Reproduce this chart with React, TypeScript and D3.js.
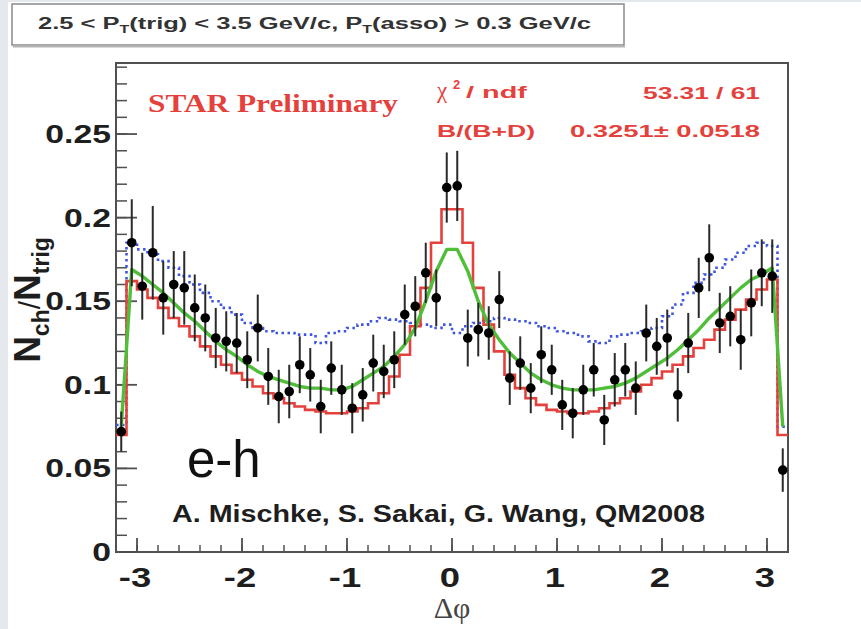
import React from 'react';
import * as d3 from 'd3';

const W = 861;
const H = 629;

// bin centers in delta-phi (bin width 0.1 over [-3.2, 3.2])
const phiBins = [
  -3.15, -3.05, -2.95, -2.85, -2.75, -2.65, -2.55, -2.45, -2.35, -2.25, -2.15, -2.05, -1.95, -1.85, -1.75, -1.65,
  -1.55, -1.45, -1.35, -1.25, -1.15, -1.05, -0.95, -0.85, -0.75, -0.65, -0.55, -0.45, -0.35, -0.25, -0.15, -0.05,
  0.05, 0.15, 0.25, 0.35, 0.45, 0.55, 0.65, 0.75, 0.85, 0.95, 1.05, 1.15, 1.25, 1.35, 1.45, 1.55,
  1.65, 1.75, 1.85, 1.95, 2.05, 2.15, 2.25, 2.35, 2.45, 2.55, 2.65, 2.75, 2.85, 2.95, 3.05, 3.15,
];

// measured e-h correlation (black points)
const dataVals = [
  0.072, 0.185, 0.159, 0.179, 0.152, 0.160, 0.158, 0.146, 0.140, 0.128, 0.126, 0.125, 0.115, 0.134, 0.105, 0.093,
  0.096, 0.112, 0.106, 0.087, 0.110, 0.097, 0.086, 0.094, 0.113, 0.108, 0.115, 0.142, 0.147, 0.167, 0.152, 0.218,
  0.219, 0.128, 0.133, 0.131, 0.151, 0.104, 0.113, 0.098, 0.118, 0.109, 0.088, 0.083, 0.097, 0.109, 0.079, 0.103,
  0.109, 0.098, 0.131, 0.123, 0.128, 0.094, 0.125, 0.158, 0.176, 0.137, 0.141, 0.127, 0.149, 0.167, 0.165, 0.049,
];

const dataErrs = [
  0.012, 0.026, 0.020, 0.028, 0.022, 0.020, 0.022, 0.020, 0.020, 0.018, 0.018, 0.018, 0.017, 0.020, 0.017, 0.016,
  0.016, 0.017, 0.016, 0.016, 0.016, 0.015, 0.015, 0.016, 0.017, 0.016, 0.017, 0.018, 0.018, 0.018, 0.017, 0.021,
  0.021, 0.017, 0.016, 0.016, 0.017, 0.016, 0.016, 0.015, 0.017, 0.015, 0.015, 0.015, 0.015, 0.016, 0.015, 0.016,
  0.016, 0.016, 0.017, 0.017, 0.017, 0.016, 0.018, 0.018, 0.020, 0.018, 0.018, 0.018, 0.020, 0.020, 0.022, 0.013,
];

// red histogram
const redHist = [
  0.070, 0.162, 0.157, 0.152, 0.146, 0.140, 0.135, 0.129, 0.123, 0.117, 0.112, 0.107, 0.103, 0.099, 0.095, 0.092,
  0.089, 0.087, 0.085, 0.084, 0.083, 0.083, 0.084, 0.086, 0.089, 0.095, 0.105, 0.118, 0.135, 0.158, 0.185, 0.205,
  0.205, 0.185, 0.158, 0.136, 0.120, 0.106, 0.098, 0.092, 0.088, 0.085, 0.084, 0.083, 0.083, 0.084, 0.086, 0.089,
  0.092, 0.096, 0.100, 0.104, 0.108, 0.112, 0.117, 0.122, 0.127, 0.133, 0.139, 0.145, 0.151, 0.157, 0.163, 0.070,
];

// green combined fit
const greenFit = [
  0.075, 0.169, 0.165, 0.160, 0.155, 0.149, 0.143, 0.138, 0.132, 0.126, 0.121, 0.117, 0.112, 0.108, 0.105, 0.103,
  0.101, 0.099, 0.098, 0.098, 0.097, 0.097, 0.099, 0.103, 0.107, 0.111, 0.117, 0.124, 0.134, 0.150, 0.168, 0.181,
  0.181, 0.168, 0.150, 0.136, 0.127, 0.119, 0.113, 0.107, 0.103, 0.100, 0.098, 0.097, 0.097, 0.097, 0.098, 0.099,
  0.101, 0.104, 0.108, 0.112, 0.116, 0.121, 0.127, 0.133, 0.140, 0.146, 0.152, 0.158, 0.163, 0.166, 0.170, 0.075,
];

// blue dotted template
const blueHist = [
  0.076, 0.185, 0.181, 0.178, 0.174, 0.170, 0.165, 0.160, 0.155, 0.150, 0.146, 0.142, 0.137, 0.134, 0.132, 0.131,
  0.131, 0.130, 0.130, 0.125, 0.131, 0.132, 0.134, 0.136, 0.138, 0.140, 0.139, 0.138, 0.137, 0.136, 0.134, 0.136,
  0.131, 0.135, 0.137, 0.138, 0.140, 0.139, 0.138, 0.137, 0.135, 0.134, 0.132, 0.131, 0.129, 0.126, 0.125, 0.129,
  0.130, 0.131, 0.132, 0.134, 0.141, 0.148, 0.155, 0.161, 0.166, 0.170, 0.175, 0.179, 0.183, 0.185, 0.183, 0.075,
];

const BIN_W = 0.1;
const RED = '#e4413c';
const GREEN = '#4fbf3a';
const BLUE = '#3d55e0';
const TXT = '#1e1e1e';

export default function App() {
  const x = d3.scaleLinear().domain([-3.2, 3.2]).range([116, 788]);
  const y = d3.scaleLinear().domain([0, 0.2925]).range([552, 63]);

  const stepPath = (vals: number[]) => {
    const pts: [number, number][] = phiBins.map((p, i) => [x(p - BIN_W / 2), y(vals[i])]);
    pts.push([x(phiBins[phiBins.length - 1] + BIN_W / 2), y(vals[vals.length - 1])]);
    return d3.line().curve(d3.curveStepAfter)(pts) || '';
  };
  const linePath = (vals: number[]) =>
    d3.line<number>().x((_, i) => x(phiBins[i])).y((v) => y(v))(vals) || '';

  const yMajor = y.ticks(6);
  const yMinor = y.ticks(30);
  const xMajor = x.ticks(7);
  const xMinor = x.ticks(32);
  const fmt = d3.format('~g');
  const x0 = x.range()[0];
  const x1 = x.range()[1];
  const yb = y.range()[0];
  const yt = y.range()[1];

  const sans = "'Liberation Sans', Arial, Helvetica, sans-serif";
  const serif = "'Liberation Serif', 'Times New Roman', serif";

  return (
    <svg width={W} height={H} style={{ position: 'absolute', left: 0, top: 0, background: '#fff' }}>
      {/* background */}
      <rect x={0} y={0} width={W} height={H} fill="#ffffff" />
      <rect x={0} y={0} width={8} height={H} fill="#e5e8ec" />
      <rect x={0} y={0} width={W} height={2} fill="#e5e8ec" />

      {/* title box */}
      <rect x={12} y={4} width={612} height={41} fill="#ffffff" stroke="#8a8a8a" strokeWidth={1.5} />
      <line x1={13} y1={46.5} x2={625} y2={46.5} stroke="#b5b5b5" strokeWidth={2} />
      <text x={38} y={29} fontFamily={sans} fontWeight="bold" fontSize={16} fill="#333"
        textLength={553} lengthAdjust="spacingAndGlyphs">
        2.5 &lt; P<tspan fontSize={10} dy={4}>T</tspan><tspan dy={-4}>(trig) &lt; 3.5 GeV/c, P</tspan>
        <tspan fontSize={10} dy={4}>T</tspan><tspan dy={-4}>(asso) &gt; 0.3 GeV/c</tspan>
      </text>

      {/* frame */}
      <rect x={x0} y={yt} width={x1 - x0} height={yb - yt} fill="#ffffff" stroke="#505050" strokeWidth={2} />

      {/* y ticks */}
      {yMinor.map((t) => (
        <line key={'ym' + t} x1={x0} x2={x0 + 11} y1={y(t)} y2={y(t)} stroke="#505050" strokeWidth={1.5} />
      ))}
      {yMajor.map((t) => (
        <line key={'yM' + t} x1={x0} x2={x0 + 21} y1={y(t)} y2={y(t)} stroke="#505050" strokeWidth={1.8} />
      ))}
      {/* x ticks */}
      {xMinor.map((t) => (
        <line key={'xm' + t} x1={x(t)} x2={x(t)} y1={yb} y2={yb - 7} stroke="#505050" strokeWidth={1.5} />
      ))}
      {xMajor.map((t) => (
        <line key={'xM' + t} x1={x(t)} x2={x(t)} y1={yb} y2={yb - 14} stroke="#505050" strokeWidth={1.8} />
      ))}

      {/* y tick labels */}
      {yMajor.map((t) => (
        <text key={'yl' + t} transform={`translate(${x0 - 5},${y(t) + 9}) scale(1.35,1)`} textAnchor="end"
          fontFamily={sans} fontWeight="bold" fontSize={25} fill={TXT}>
          {fmt(t)}
        </text>
      ))}
      {/* x tick labels */}
      {xMajor.map((t) => (
        <text key={'xl' + t} transform={`translate(${x(t) - 2},${yb + 35}) scale(1.35,1)`} textAnchor="middle"
          fontFamily={sans} fontWeight="bold" fontSize={27} fill={TXT}>
          {t < 0 ? '-' + Math.abs(t) : String(t)}
        </text>
      ))}

      {/* axis titles */}
      <text x={452} y={618} textAnchor="middle" fontFamily={serif} fontSize={30} fill="#444">Δφ</text>
      <text transform="translate(40,300) rotate(-90)" textAnchor="middle" fontFamily={sans} fontWeight="bold"
        fontSize={37} fill={TXT}>
        N<tspan fontSize={23} dy={9}>ch</tspan><tspan dy={-9} fontSize={30} fontWeight="normal">/</tspan>N<tspan fontSize={23} dy={9}>trig</tspan>
      </text>

      {/* blue dotted template */}
      <path d={stepPath(blueHist)} fill="none" stroke={BLUE} strokeWidth={2.6} strokeDasharray="2.5 3.5" />
      {/* red histogram */}
      <path d={stepPath(redHist)} fill="none" stroke={RED} strokeWidth={2.6} />
      {/* green fit */}
      <path d={linePath(greenFit)} fill="none" stroke={GREEN} strokeWidth={3.4} strokeLinejoin="round" />

      {/* data points */}
      {phiBins.map((p, i) => (
        <g key={'pt' + i}>
          <line x1={x(p)} x2={x(p)} y1={y(dataVals[i] - dataErrs[i])} y2={y(dataVals[i] + dataErrs[i])}
            stroke="#2a2a2a" strokeWidth={2} />
          <circle cx={x(p)} cy={y(dataVals[i])} r={4.8} fill="#000" />
        </g>
      ))}

      {/* texts inside frame */}
      <text x={148} y={112} fontFamily={serif} fontWeight="bold" fontSize={25} fill={RED}
        textLength={250} lengthAdjust="spacingAndGlyphs">STAR Preliminary</text>
      <text x={437} y={98} fontFamily={serif} fontSize={23} fill={RED}>χ</text>
      <text x={453} y={89} fontFamily={sans} fontWeight="bold" fontSize={13} fill={RED}>2</text>
      <text x={466} y={98} fontFamily={sans} fontWeight="bold" fontSize={17} fill={RED}
        textLength={61} lengthAdjust="spacingAndGlyphs">/ ndf</text>
      <text x={760} y={99} textAnchor="end" fontFamily={sans} fontWeight="bold" fontSize={17} fill={RED}
        textLength={117} lengthAdjust="spacingAndGlyphs">53.31 / 61</text>
      <text x={437} y={137} fontFamily={sans} fontWeight="bold" fontSize={17} fill={RED}
        textLength={98} lengthAdjust="spacingAndGlyphs">B/(B+D)</text>
      <text x={760} y={137} textAnchor="end" fontFamily={sans} fontWeight="bold" fontSize={17} fill={RED}
        textLength={190} lengthAdjust="spacingAndGlyphs">0.3251± 0.0518</text>

      <text x={187} y={477} fontFamily={sans} fontSize={51} fill="#111">e-h</text>
      <text x={172} y={522} fontFamily={sans} fontWeight="bold" fontSize={23} fill={TXT}
        textLength={533} lengthAdjust="spacingAndGlyphs">A. Mischke, S. Sakai, G. Wang, QM2008</text>
    </svg>
  );
}
